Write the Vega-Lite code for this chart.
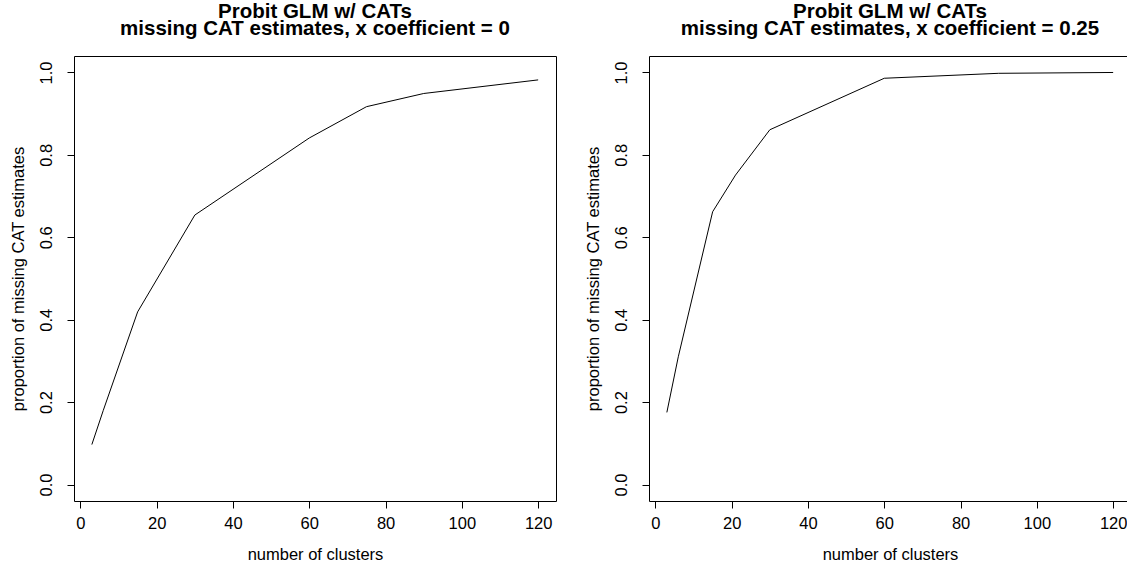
{
  "$schema": "https://vega.github.io/schema/vega-lite/v6.json",
  "autosize": {"type": "pad"},
  "padding": {"left": 9, "top": 1, "right": 0, "bottom": 0},
  "background": "white",
  "config": {
    "view": {"stroke": "black", "strokeWidth": 1},
    "font": "Liberation Sans",
    "axis": {
      "domain": false, "grid": false,
      "tickColor": "black", "tickSize": 7, "tickWidth": 1,
      "labelFont": "Liberation Sans", "labelFontSize": 16.5, "labelColor": "black",
      "titleFont": "Liberation Sans", "titleFontSize": 16.5, "titleFontWeight": "normal", "titleColor": "black"
    },
    "title": {"font": "Liberation Sans", "fontSize": 20.5, "fontWeight": "bold", "color": "black", "anchor": "middle", "lineHeight": 17, "offset": 17}
  },
  "data": {"values": [
    {"panel": "a", "clusters": 3, "prop": 0.097},
    {"panel": "a", "clusters": 6, "prop": 0.18},
    {"panel": "a", "clusters": 15, "prop": 0.419},
    {"panel": "a", "clusters": 30, "prop": 0.654},
    {"panel": "a", "clusters": 60, "prop": 0.841},
    {"panel": "a", "clusters": 75, "prop": 0.917},
    {"panel": "a", "clusters": 90, "prop": 0.949},
    {"panel": "a", "clusters": 120, "prop": 0.982},
    {"panel": "b", "clusters": 3, "prop": 0.175},
    {"panel": "b", "clusters": 6, "prop": 0.31},
    {"panel": "b", "clusters": 15, "prop": 0.662},
    {"panel": "b", "clusters": 21, "prop": 0.751},
    {"panel": "b", "clusters": 30, "prop": 0.861},
    {"panel": "b", "clusters": 60, "prop": 0.986},
    {"panel": "b", "clusters": 90, "prop": 0.998},
    {"panel": "b", "clusters": 120, "prop": 1.0}
  ]},
  "hconcat": [
    {
      "width": 482, "height": 445,
      "title": {"text": ["Probit GLM w/ CATs", "missing CAT estimates, x coefficient = 0"]},
      "transform": [{"filter": "datum.panel === 'a'"}],
      "mark": {"type": "line", "color": "black", "strokeWidth": 1},
      "encoding": {
        "x": {"field": "clusters", "type": "quantitative", "title": "number of clusters",
              "scale": {"domain": [-1.68, 124.68], "nice": false, "zero": false},
              "axis": {"values": [0, 20, 40, 60, 80, 100, 120], "labelPadding": 7, "titlePadding": 15}},
        "y": {"field": "prop", "type": "quantitative", "title": "proportion of missing CAT estimates",
              "scale": {"domain": [-0.04, 1.04], "nice": false, "zero": false},
              "axis": {"values": [0, 0.2, 0.4, 0.6, 0.8, 1.0], "format": ".1f", "labelAngle": 270, "labelAlign": "center", "labelBaseline": "bottom", "labelPadding": 13, "titlePadding": 12}}
      }
    },
    {
      "width": 482, "height": 445,
      "title": {"text": ["Probit GLM w/ CATs", "missing CAT estimates, x coefficient = 0.25"]},
      "transform": [{"filter": "datum.panel === 'b'"}],
      "mark": {"type": "line", "color": "black", "strokeWidth": 1},
      "encoding": {
        "x": {"field": "clusters", "type": "quantitative", "title": "number of clusters",
              "scale": {"domain": [-1.68, 124.68], "nice": false, "zero": false},
              "axis": {"values": [0, 20, 40, 60, 80, 100, 120], "labelPadding": 7, "titlePadding": 15}},
        "y": {"field": "prop", "type": "quantitative", "title": "proportion of missing CAT estimates",
              "scale": {"domain": [-0.04, 1.04], "nice": false, "zero": false},
              "axis": {"values": [0, 0.2, 0.4, 0.6, 0.8, 1.0], "format": ".1f", "labelAngle": 270, "labelAlign": "center", "labelBaseline": "bottom", "labelPadding": 13, "titlePadding": 12}}
      }
    }
  ],
  "spacing": 93,
  "bounds": "flush"
}
